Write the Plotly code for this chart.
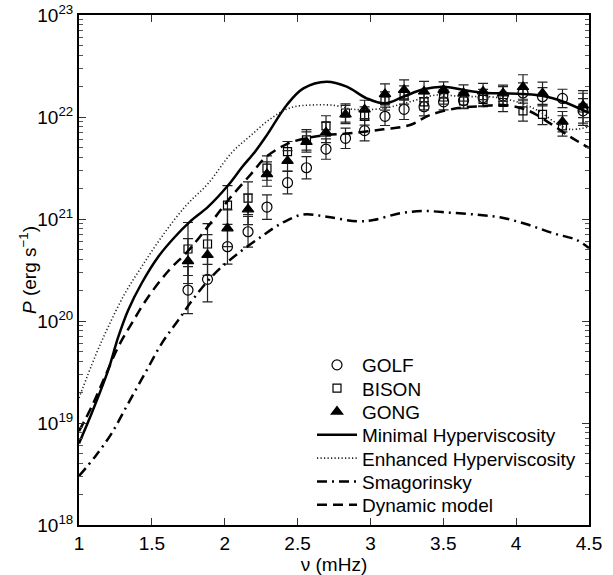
import plotly.graph_objects as go

# ---------------- data ----------------
freq = [1.748, 1.882, 2.019, 2.160, 2.290, 2.431, 2.561, 2.695, 2.829, 2.960, 3.100,
        3.231, 3.368, 3.502, 3.639, 3.773, 3.910, 4.047, 4.181, 4.318, 4.459]

golf = [2.01e20, 2.56e20, 5.35e20, 7.50e20, 1.31e21, 2.27e21, 3.18e21, 4.85e21, 6.18e21, 7.35e21,
        1.016e22, 1.19e22, 1.26e22, 1.41e22, 1.45e22, 1.55e22, 1.61e22, 1.72e22, 1.58e22, 1.52e22, 1.15e22]
golf_err = [0.23, 0.22, 0.17, 0.15, 0.12, 0.11, 0.11, 0.10, 0.10, 0.10, 0.09,
            0.10, 0.09, 0.08, 0.08, 0.08, 0.09, 0.10, 0.09, 0.09, 0.12]

bison = [5.08e20, 5.69e20, 1.37e21, 1.60e21, 3.16e21, 4.57e21, 5.96e21, 8.17e21, 1.094e22, 1.023e22,
         1.435e22, 1.644e22, 1.41e22, 1.57e22, 1.435e22, 1.486e22, 1.387e22, 1.146e22, 1.059e22, 8.17e21, 1.225e22]
bison_err = [0.26, 0.20, 0.19, 0.16, 0.12, 0.10, 0.10, 0.10, 0.09, 0.09, 0.09,
             0.09, 0.08, 0.07, 0.07, 0.07, 0.09, 0.10, 0.10, 0.10, 0.17]

gong = [3.87e20, 4.44e20, 8.11e20, 1.245e21, 2.76e21, 3.71e21, 5.69e21, 7.05e21, 1.059e22, 1.186e22,
        1.679e22, 1.84e22, 1.778e22, 1.84e22, 1.718e22, 1.778e22, 1.706e22, 1.968e22, 1.706e22, 8.99e21, 1.297e22]
gong_err = [0.22, 0.20, 0.18, 0.15, 0.12, 0.10, 0.10, 0.10, 0.09, 0.09, 0.10,
            0.10, 0.10, 0.08, 0.08, 0.08, 0.08, 0.12, 0.11, 0.10, 0.12]

# model curves (log10 of power)
minhyp_x = [1.0, 1.087, 1.201, 1.270, 1.338, 1.430, 1.544, 1.659, 1.762, 1.887, 2.025, 2.117, 2.208,
            2.288, 2.426, 2.540, 2.700, 2.837, 2.975, 3.100, 3.226, 3.363, 3.500, 3.638, 3.775, 3.912,
            4.049, 4.187, 4.324, 4.5]
minhyp_log = [18.80, 19.095, 19.520, 19.846, 20.108, 20.370, 20.630, 20.826, 20.974, 21.121, 21.333, 21.505, 21.660,
              21.820, 22.118, 22.281, 22.346, 22.297, 22.183, 22.134, 22.199, 22.272, 22.297, 22.265, 22.238, 22.232,
              22.225, 22.206, 22.150, 22.04]

enhhyp_x = [1.0, 1.110, 1.201, 1.316, 1.430, 1.568, 1.728, 1.887, 2.048, 2.172, 2.310, 2.448, 2.600,
            2.750, 2.883, 3.089, 3.272, 3.455, 3.638, 3.821, 4.004, 4.141, 4.279, 4.370, 4.5]
enhhyp_log = [19.245, 19.650, 19.944, 20.272, 20.532, 20.826, 21.121, 21.350, 21.650, 21.810, 21.978, 22.090, 22.118,
              22.114, 22.075, 22.085, 22.150, 22.216, 22.199, 22.199, 22.150, 22.069, 21.938, 21.879, 21.905]

smag_x = [1.0, 1.110, 1.224, 1.338, 1.453, 1.568, 1.682, 1.796, 1.933, 2.093, 2.254, 2.345, 2.426,
          2.540, 2.700, 2.906, 3.020, 3.203, 3.363, 3.546, 3.730, 3.889, 4.073, 4.255, 4.416, 4.5]
smag_log = [18.48, 18.670, 18.899, 19.193, 19.487, 19.781, 20.010, 20.238, 20.468, 20.664, 20.830, 20.920, 20.985,
            21.045, 21.023, 20.977, 20.990, 21.056, 21.078, 21.062, 21.042, 21.017, 20.948, 20.860, 20.794, 20.716]

dyn_x = [1.0, 1.087, 1.178, 1.270, 1.362, 1.476, 1.613, 1.750, 1.887, 2.025, 2.185, 2.277, 2.426,
         2.563, 2.700, 2.860, 3.089, 3.272, 3.409, 3.592, 3.775, 3.912, 4.073, 4.233, 4.370, 4.5]
dyn_log = [18.92, 19.160, 19.454, 19.748, 19.977, 20.238, 20.490, 20.690, 20.930, 21.186, 21.448, 21.600, 21.735,
           21.794, 21.824, 21.840, 21.879, 21.922, 22.020, 22.085, 22.108, 22.118, 22.069, 21.938, 21.807, 21.696]

xticks = [1, 1.5, 2, 2.5, 3, 3.5, 4, 4.5]
xticklabels = ["1", "1.5", "2", "2.5", "3", "3.5", "4", "4.5"]
yexp = [18, 19, 20, 21, 22, 23]

FONT = "Liberation Sans, Arial, Helvetica, sans-serif"

# plot-area geometry (px) used to place the legend rows and y title
W, H = 613, 575
ML, MR, MT, MB = 79, 24, 15, 50
legend_rows_px = [365, 388.3, 411.7, 435, 458.3, 481.7, 505]
legend_left_px = 312
ytitle_px = (28, 270)

def errs(vals, e):
    plus = [v * (10.0 ** d - 1) for v, d in zip(vals, e)]
    minus = [v * (1 - 10.0 ** (-d)) for v, d in zip(vals, e)]
    return plus, minus

fig = go.Figure()
legend_ids = ["legend", "legend2", "legend3", "legend4", "legend5", "legend6", "legend7"]
k = [0]

def next_legend():
    lid = legend_ids[k[0]]
    k[0] += 1
    return lid

def add_obs(name, vals, e, symbol, size, fill):
    plus, minus = errs(vals, e)
    fig.add_trace(go.Scatter(
        x=freq, y=vals, mode="markers", name=name, legend=next_legend(),
        marker=dict(symbol=symbol, size=size, color=fill,
                    line=dict(color="black", width=1.2)),
        error_y=dict(type="data", symmetric=False, array=plus, arrayminus=minus,
                     color="#222", thickness=1.2, width=5),
    ))

add_obs("GOLF", golf, golf_err, "circle-open", 10, "black")
add_obs("BISON", bison, bison_err, "square-open", 8, "black")
add_obs("GONG", gong, gong_err, "triangle-up", 10, "black")

def add_curve(name, xs, logs, dash, width, color="black"):
    fig.add_trace(go.Scatter(
        x=xs, y=[10.0 ** v for v in logs], mode="lines", name=name, legend=next_legend(),
        line=dict(color=color, width=width, dash=dash, shape="spline", smoothing=1.0),
    ))

add_curve("Minimal Hyperviscosity", minhyp_x, minhyp_log, "solid", 2.5)
add_curve("Enhanced Hyperviscosity", enhhyp_x, enhhyp_log, "1.2px,2.3px", 1.6, "#222")
add_curve("Smagorinsky", smag_x, smag_log, "10px,5px,2px,5px", 2.5)
add_curve("Dynamic model", dyn_x, dyn_log, "10px,6px", 2.5)

ph = H - MT - MB
pw = W - ML - MR
legend_layout = {}
for lid, ypx in zip(legend_ids, legend_rows_px):
    legend_layout[lid] = dict(
        x=(legend_left_px - ML) / pw, y=(H - MB - ypx) / ph,
        xanchor="left", yanchor="middle",
        bgcolor="rgba(0,0,0,0)", borderwidth=0,
        font=dict(family=FONT, size=19, color="black"),
        itemwidth=40,
    )

fig.update_layout(
    width=W, height=H,
    margin=dict(l=ML, r=MR, t=MT, b=MB),
    paper_bgcolor="white", plot_bgcolor="white",
    font=dict(family=FONT, size=19, color="black"),
    showlegend=True,
    xaxis=dict(range=[1, 4.5], tickvals=xticks, ticktext=xticklabels, automargin=False,
               showgrid=False, zeroline=False, showline=True, linecolor="black", linewidth=2,
               mirror="ticks", ticks="inside", ticklen=7, tickwidth=1, tickcolor="#333",
               title=dict(text="ν (mHz)", font=dict(size=19))),
    yaxis=dict(type="log", range=[18, 23], automargin=False,
               tickmode="array",
               tickvals=[10.0 ** e for e in yexp],
               ticktext=["10<sup>%d</sup>" % e for e in yexp],
               showgrid=False, zeroline=False, showline=True, linecolor="black", linewidth=2,
               mirror="ticks", ticks="inside", ticklen=7, tickwidth=1, tickcolor="#333",
               minor=dict(ticks="inside", ticklen=4, tickwidth=1, tickcolor="#555",
                          tickmode="linear", dtick="D1", showgrid=False)),
    annotations=[dict(
        text="<i>P</i> (erg s<sup>−1</sup>)", textangle=-90, showarrow=False,
        xref="paper", yref="paper",
        x=(ytitle_px[0] - ML) / pw, y=(H - MB - ytitle_px[1]) / ph,
        xanchor="center", yanchor="middle",
        font=dict(family=FONT, size=19, color="black"),
    )],
    **legend_layout,
)

fig.write_html("out.html")
